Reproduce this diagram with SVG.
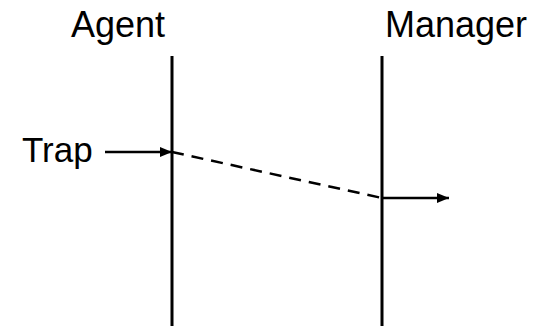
<svg xmlns="http://www.w3.org/2000/svg" width="538" height="326" viewBox="0 0 538 326">
<style>
text{font-family:"Liberation Sans",Arial,sans-serif;font-size:36px;fill:#000}
.life{stroke:#000;stroke-width:3}
.msg{stroke:#000;stroke-width:2.5;fill:none}
</style>
<defs>
<marker id="ah" markerWidth="12" markerHeight="10" refX="12" refY="5" orient="auto" markerUnits="userSpaceOnUse">
<path d="M0,0 L12,5 L0,10 Z" fill="#000"/>
</marker>
</defs>
<rect width="538" height="326" fill="#fff"/>
<g id="agent">
<text x="118" y="37" text-anchor="middle">Agent</text>
<line class="life" x1="172" y1="56" x2="172" y2="326"/>
</g>
<g id="manager">
<text x="456" y="37" text-anchor="middle">Manager</text>
<line class="life" x1="382" y1="56" x2="382" y2="326"/>
</g>
<g id="trap">
<text x="22" y="162" style="font-size:35px">Trap</text>
</g>
<g id="connectors">
<line class="msg" x1="105" y1="152" x2="172" y2="152" marker-end="url(#ah)"/>
<line class="msg" x1="172" y1="152" x2="382" y2="198" stroke-dasharray="12,8"/>
<line class="msg" x1="382" y1="198" x2="449" y2="198" marker-end="url(#ah)"/>
</g>
</svg>
